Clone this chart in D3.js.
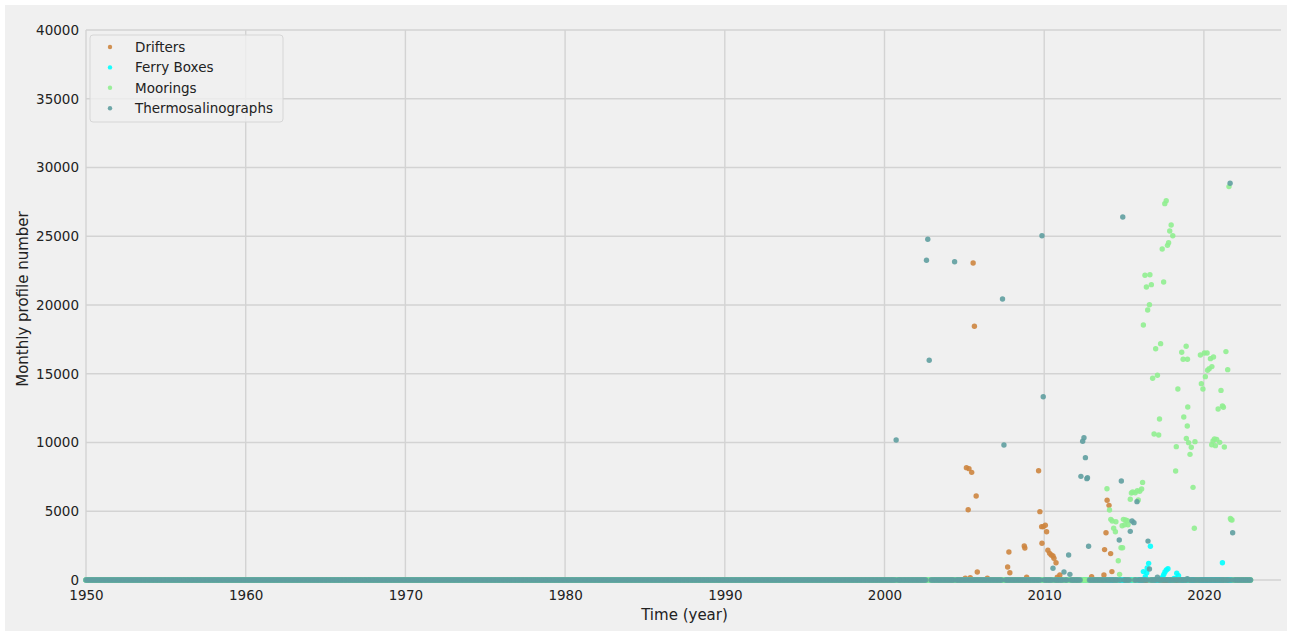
<!DOCTYPE html>
<html>
<head>
<meta charset="utf-8">
<script src="https://cdn.jsdelivr.net/npm/d3@7"></script>
<style>
  body { margin: 0; background: #ffffff; }
  text { font-family: "DejaVu Sans", sans-serif; fill: #222; }
</style>
</head>
<body>
<div id="chart-area"></div>
<script>
// monthly record runs from Jan 1950 to Dec 2022, zero where nothing was measured
const firstYear = 1950
const lastYear = 2023

const xTicks = [1950, 1960, 1970, 1980, 1990, 2000, 2010, 2020]
const yTicks = [0, 5000, 10000, 15000, 20000, 25000, 30000, 35000, 40000]

// non-zero months, [decimal year, profiles]
const drifters = [
    [2005.06, 130], [2005.13, 8170], [2005.24, 5110], [2005.29, 8100], [2005.37, 170],
    [2005.46, 7830], [2005.55, 23050], [2005.63, 18450], [2005.74, 6110], [2005.81, 580],
    [2006.44, 130], [2007.71, 945], [2007.79, 2040], [2007.85, 530], [2008.75, 2470],
    [2008.79, 2330], [2008.90, 200], [2009.65, 7950], [2009.73, 4970], [2009.84, 3880],
    [2009.86, 2670], [2009.94, 3880], [2010.07, 3980], [2010.15, 3510], [2010.23, 2160],
    [2010.34, 1940], [2010.44, 1820], [2010.55, 1750], [2010.61, 1580], [2010.74, 1260],
    [2010.82, 200], [2010.98, 360], [2012.97, 240], [2013.74, 360], [2013.78, 2210],
    [2013.87, 3440], [2013.94, 5800], [2014.06, 5430], [2014.16, 1920], [2014.24, 610]
]

const ferryBoxes = [
    [2016.21, 610], [2016.29, 50], [2016.33, 240], [2016.42, 530], [2016.45, 870],
    [2016.54, 1210], [2016.65, 2450], [2017.36, 120], [2017.43, 240], [2017.49, 410],
    [2017.56, 580], [2017.65, 730], [2017.75, 820], [2018.13, 120], [2018.23, 120],
    [2018.30, 490], [2018.41, 310], [2021.16, 1250]
]

const moorings = [
    [2013.93, 6640], [2014.09, 5090], [2014.17, 4410], [2014.26, 4290], [2014.35, 3760],
    [2014.46, 3510], [2014.49, 4240], [2014.64, 1400], [2014.72, 410], [2014.81, 2350],
    [2014.88, 3950], [2014.91, 2350], [2014.96, 4410], [2015.04, 4020], [2015.10, 4360],
    [2015.21, 4310], [2015.25, 4020], [2015.39, 5870], [2015.46, 6330], [2015.54, 6400],
    [2015.70, 6350], [2015.83, 6500], [2015.89, 5820], [2015.98, 6450], [2016.10, 6620],
    [2016.16, 7100], [2016.21, 18550], [2016.31, 22160], [2016.40, 21310], [2016.48, 19640],
    [2016.59, 20020], [2016.62, 22200], [2016.71, 21480], [2016.79, 14670], [2016.88, 10620],
    [2016.98, 16820], [2017.09, 14890], [2017.17, 10550], [2017.22, 11710], [2017.29, 17190],
    [2017.39, 24070], [2017.48, 21670], [2017.55, 27370], [2017.64, 27590], [2017.72, 24340],
    [2017.79, 24530], [2017.86, 25380], [2017.95, 25820], [2018.05, 25040], [2018.23, 7930],
    [2018.27, 9700], [2018.37, 13890], [2018.61, 16560], [2018.70, 16050], [2018.74, 11850],
    [2018.89, 17000], [2018.90, 10300], [2018.96, 11200], [2018.97, 16050], [2018.99, 12580],
    [2019.04, 9990], [2019.13, 9140], [2019.21, 9650], [2019.32, 6740], [2019.40, 3760],
    [2019.44, 10060], [2019.78, 16360], [2019.84, 14280], [2019.94, 13890], [2020.03, 16510],
    [2020.09, 14790], [2020.20, 16510], [2020.23, 15250], [2020.33, 15370], [2020.41, 16100],
    [2020.49, 9840], [2020.50, 15520], [2020.57, 10110], [2020.60, 16220], [2020.66, 10250],
    [2020.72, 9770], [2020.80, 10230], [2020.89, 12440], [2020.99, 10010], [2021.07, 13790],
    [2021.16, 12660], [2021.22, 12560], [2021.28, 9670], [2021.38, 16610], [2021.49, 15300],
    [2021.57, 28610], [2021.66, 4480], [2021.70, 4390], [2021.76, 4360]
]

const thermosalinographs = [
    [2000.73, 10180], [2002.63, 23250], [2002.71, 24780], [2002.80, 15980], [2004.39, 23150],
    [2007.39, 20440], [2007.48, 9820], [2009.86, 25040], [2009.94, 13330], [2010.55, 850],
    [2011.24, 580], [2011.53, 1820], [2011.61, 410], [2012.30, 7540], [2012.41, 10090],
    [2012.49, 10350], [2012.58, 8900], [2012.67, 7370], [2012.71, 7440], [2012.78, 2450],
    [2014.70, 2910], [2014.83, 7200], [2014.92, 26400], [2015.39, 3540], [2015.50, 4290],
    [2015.62, 4170], [2015.81, 5700], [2016.50, 2830], [2016.59, 800], [2017.09, 200],
    [2018.96, 100], [2021.64, 28850], [2021.80, 3440]
]

const seriesNames = ["Drifters", "Ferry Boxes", "Moorings", "Thermosalinographs"]
const seriesColors = ["#cd853f", "#00ffff", "#90ee90", "#5f9ea0"]
const seriesPoints = [drifters, ferryBoxes, moorings, thermosalinographs]

const MARGIN = { LEFT: 86, RIGHT: 12, TOP: 30, BOTTOM: 51 }
const WIDTH = 1293 - MARGIN.LEFT - MARGIN.RIGHT
const HEIGHT = 631 - MARGIN.TOP - MARGIN.BOTTOM

const svg = d3.select("#chart-area").append("svg")
    .attr("width", 1293)
    .attr("height", 631)

// figure background
svg.append("rect")
    .attr("x", 5).attr("y", 5)
    .attr("width", 1282).attr("height", 626)
    .attr("fill", "#f0f0f0")

const g = svg.append("g")
    .attr("transform", `translate(${MARGIN.LEFT}, ${MARGIN.TOP})`)

// scales
const x = d3.scaleLinear().domain([1950, 1950 + WIDTH / 15.97]).range([0, WIDTH])
const y = d3.scaleLinear().domain([0, 40000]).range([HEIGHT, 0])

// grid
g.append("g").selectAll("line").data(yTicks).join("line")
    .attr("x1", 0).attr("x2", WIDTH)
    .attr("y1", d => y(d)).attr("y2", d => y(d))
    .attr("stroke", "#d3d3d3").attr("stroke-width", 1.4)
g.append("g").selectAll("line").data(xTicks).join("line")
    .attr("x1", d => x(d)).attr("x2", d => x(d))
    .attr("y1", 0).attr("y2", HEIGHT)
    .attr("stroke", "#d3d3d3").attr("stroke-width", 1.4)

// axes (labels only, no spines or tick marks)
const xAxis = g.append("g")
    .attr("transform", `translate(0, ${HEIGHT})`)
    .call(d3.axisBottom(x).tickValues(xTicks).tickFormat(d3.format("d")).tickSize(0).tickPadding(10))
const yAxis = g.append("g")
    .call(d3.axisLeft(y).tickValues(yTicks).tickFormat(d3.format("d")).tickSize(0).tickPadding(7))
xAxis.select(".domain").remove()
yAxis.select(".domain").remove()
svg.selectAll(".tick text")
    .attr("font-family", "DejaVu Sans, sans-serif")
    .attr("font-size", "13.5px")
    .attr("fill", "#222")

// axis labels
g.append("text")
    .attr("x", WIDTH / 2 + 1)
    .attr("y", HEIGHT + 40)
    .attr("font-size", "15px")
    .attr("text-anchor", "middle")
    .text("Time (year)")
g.append("text")
    .attr("transform", "rotate(-90)")
    .attr("x", -HEIGHT / 2 + 6)
    .attr("y", -58)
    .attr("font-size", "15px")
    .attr("text-anchor", "middle")
    .text("Monthly profile number")

// each series: zero for every month, the listed values where non-zero
function monthlySeries(points) {
    const used = new Set(points.map(p => Math.round((p[0] - firstYear) * 12)))
    const zeros = d3.range((lastYear - firstYear) * 12)
        .filter(m => !used.has(m))
        .map(m => [firstYear + m / 12, 0])
    return zeros.concat(points).sort((a, b) => a[0] - b[0])
}

const plot = g.append("g")
seriesPoints.forEach((pts, i) => {
    plot.append("g").selectAll("circle")
        .data(monthlySeries(pts))
        .join("circle")
        .attr("cx", d => x(d[0]))
        .attr("cy", d => y(d[1]))
        .attr("r", 2.7)
        .attr("fill", seriesColors[i])
        .attr("fill-opacity", 0.9)
})

// legend
const legend = g.append("g").attr("transform", "translate(4, 5)")
legend.append("rect")
    .attr("width", 193).attr("height", 87)
    .attr("rx", 3)
    .attr("fill", "#f0f0f0").attr("fill-opacity", 0.8)
    .attr("stroke", "#d6d6d6")
const rows = legend.selectAll(".row").data(seriesNames).join("g")
    .attr("class", "row")
    .attr("transform", (d, i) => `translate(0, ${12 + i * 20.4})`)
rows.append("circle")
    .attr("cx", 20).attr("r", 2.2)
    .attr("fill", (d, i) => seriesColors[i])
    .attr("fill-opacity", 0.9)
rows.append("text")
    .attr("x", 45)
    .attr("dy", "0.35em")
    .attr("font-size", "13.5px")
    .text(d => d)
</script>
</body>
</html>
